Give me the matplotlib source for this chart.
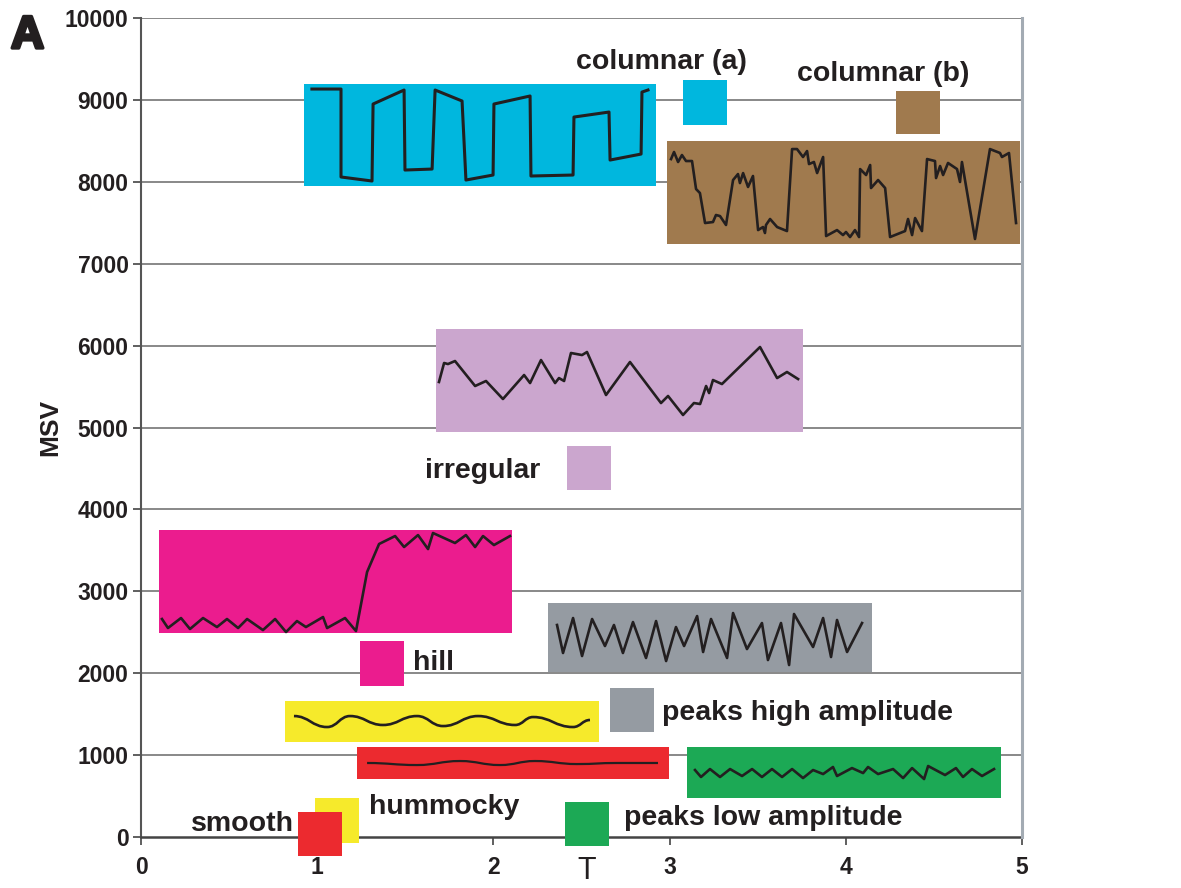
import matplotlib
matplotlib.use("Agg")
import matplotlib.pyplot as plt
from matplotlib.patches import Rectangle, PathPatch
from matplotlib.path import Path
import matplotlib.patheffects as pe

plt.rcParams['font.family'] = ['Liberation Sans', 'DejaVu Sans']

# ---------------- data ----------------
x_ticks = [0, 1, 2, 3, 4, 5]
y_ticks = [0, 1000, 2000, 3000, 4000, 5000, 6000, 7000, 8000, 9000, 10000]

columnar_a_x = [0.970, 1.135, 1.135, 1.311, 1.317, 1.493, 1.498, 1.652, 1.669, 1.822, 1.844,
                1.998, 2.003, 2.208, 2.213, 2.452, 2.457, 2.656, 2.662, 2.838, 2.843, 2.877]
columnar_a_y = [9133, 9133, 8059, 8010, 8950, 9121, 8144, 8156, 9121, 8987, 8022,
                8083, 8950, 9048, 8071, 8083, 8791, 8852, 8266, 8339, 9096, 9121]

columnar_b_x = [3.008, 3.025, 3.048, 3.070, 3.093, 3.127, 3.150, 3.172, 3.201, 3.246, 3.263,
                3.286, 3.320, 3.360, 3.388, 3.399, 3.417, 3.445, 3.473, 3.502, 3.530, 3.541,
                3.547, 3.570, 3.610, 3.666, 3.695, 3.723, 3.757, 3.780, 3.791, 3.819, 3.837,
                3.871, 3.888, 3.950, 3.984, 4.001, 4.024, 4.052, 4.075, 4.081, 4.115, 4.138,
                4.143, 4.183, 4.223, 4.251, 4.336, 4.353, 4.376, 4.393, 4.432, 4.461, 4.506,
                4.512, 4.535, 4.552, 4.580, 4.631, 4.648, 4.659, 4.733, 4.818, 4.875, 4.886,
                4.926, 4.966]
columnar_b_y = [8278, 8364, 8242, 8327, 8254, 8254, 7912, 7863, 7497, 7509, 7595,
                7582, 7473, 8022, 8095, 7985, 8107, 7937, 8071, 7411, 7448, 7375,
                7473, 7546, 7448, 7399, 8400, 8400, 8303, 8376, 8217, 8242, 8107,
                8303, 7338, 7411, 7350, 7387, 7326, 7411, 7326, 8156, 8083, 8205,
                7924, 8022, 7924, 7326, 7399, 7546, 7350, 7558, 7399, 8278, 8254,
                8046, 8193, 8083, 8230, 8156, 7998, 8242, 7302, 8400, 8352, 8303,
                8352, 7497]

irregular_x = [1.691, 1.720, 1.742, 1.782, 1.896, 1.958, 2.054, 2.174, 2.208, 2.270, 2.350,
               2.372, 2.401, 2.440, 2.503, 2.531, 2.639, 2.775, 2.951, 2.991, 3.076, 3.138,
               3.173, 3.207, 3.224, 3.246, 3.297, 3.513, 3.610, 3.666, 3.729]
irregular_y = [5556, 5788, 5775, 5812, 5507, 5568, 5348, 5641, 5543, 5824, 5543,
               5604, 5568, 5910, 5885, 5922, 5397, 5800, 5299, 5385, 5153, 5299,
               5287, 5507, 5421, 5580, 5531, 5983, 5604, 5678, 5592]

hill_x = [0.119, 0.153, 0.227, 0.278, 0.352, 0.431, 0.488, 0.551, 0.602, 0.692, 0.761,
          0.823, 0.885, 0.936, 1.033, 1.056, 1.158, 1.220, 1.283, 1.351, 1.442, 1.493,
          1.572, 1.629, 1.657, 1.782, 1.844, 1.896, 1.941, 2.003, 2.094]
hill_y = [2662, 2552, 2674, 2540, 2674, 2564, 2662, 2552, 2662, 2527, 2662,
          2503, 2637, 2564, 2686, 2552, 2674, 2515, 3236, 3578, 3675, 3541,
          3687, 3516, 3712, 3590, 3687, 3541, 3675, 3565, 3675]

peaks_high_x = [2.361, 2.395, 2.452, 2.503, 2.560, 2.633, 2.684, 2.735, 2.792, 2.866, 2.923,
                2.980, 3.036, 3.082, 3.156, 3.190, 3.235, 3.326, 3.360, 3.439, 3.524, 3.558,
                3.632, 3.678, 3.706, 3.814, 3.871, 3.916, 3.950, 4.007, 4.092]
peaks_high_y = [2589, 2247, 2674, 2210, 2662, 2332, 2589, 2247, 2625, 2186, 2637,
                2149, 2564, 2332, 2698, 2259, 2662, 2186, 2735, 2295, 2613, 2161,
                2613, 2100, 2723, 2320, 2674, 2198, 2650, 2259, 2613]

hummocky_x = [0.868, 1.056, 1.186, 1.373, 1.566, 1.714, 1.913, 2.123, 2.225, 2.452, 2.548]
hummocky_y = [1477, 1343, 1477, 1368, 1477, 1355, 1477, 1368, 1465, 1343, 1429]

smooth_x = [1.283, 1.566, 1.810, 2.037, 2.236, 2.474, 2.701, 2.934]
smooth_y = [904, 879, 928, 879, 928, 891, 904, 904]

peaks_low_x = [3.144, 3.178, 3.229, 3.286, 3.343, 3.411, 3.468, 3.524, 3.581, 3.638, 3.695,
               3.757, 3.814, 3.871, 3.927, 3.950, 4.035, 4.098, 4.126, 4.183, 4.268, 4.325,
               4.376, 4.444, 4.467, 4.563, 4.625, 4.665, 4.716, 4.773, 4.841]
peaks_low_y = [818, 733, 830, 733, 830, 745, 830, 733, 830, 733, 830,
               720, 818, 769, 855, 745, 842, 781, 855, 769, 830, 720,
               842, 708, 867, 757, 842, 733, 830, 745, 830]

# background boxes: (x0, x1, y0, y1)
box_columnar_a = (0.925, 2.923, 7950, 9195)
box_columnar_b = (2.985, 4.989, 7241, 8498)
box_irregular = (1.674, 3.757, 4945, 6203)
box_hill = (0.102, 2.106, 2491, 3748)
box_peaks_high = (2.310, 4.149, 2015, 2857)
box_hummocky = (0.817, 2.599, 1160, 1661)
box_smooth = (1.226, 2.997, 708, 1099)
box_peaks_low = (3.099, 4.881, 476, 1099)

# legend entries
legend_labels = ['columnar (a)', 'columnar (b)', 'irregular', 'hill',
                 'peaks high amplitude', 'hummocky', 'smooth', 'peaks low amplitude']

# ---------------- styles ----------------
C_BLUE = '#00B7DE'
C_BROWN = '#A07A4E'
C_PURPLE = '#CBA6CE'
C_PINK = '#EB1C8E'
C_GREY = '#959BA2'
C_YELLOW = '#F6EA2B'
C_RED = '#EC2A2F'
C_GREEN = '#1CA955'
LINE_C = '#231F20'
LW = 1.9

fig = plt.figure(figsize=(11.81, 8.88), dpi=100)
ax = fig.add_axes([0.1194, 0.0574, 0.7460, 0.9223])
ax.set_xlim(0, 5)
ax.set_ylim(0, 10000)

# grid lines
for yv in y_ticks[1:]:
    ax.axhline(yv, color='#7F7F7F', lw=1.3, zorder=0)


def box(b, color):
    x0, x1, y0, y1 = b
    ax.add_patch(Rectangle((x0, y0), x1 - x0, y1 - y0, facecolor=color,
                           edgecolor='none', zorder=1, clip_on=False))


def smooth_curve(xs, ys, lw):
    verts = [(xs[0], ys[0])]
    codes = [Path.MOVETO]
    for i in range(len(xs) - 1):
        dx = xs[i + 1] - xs[i]
        verts += [(xs[i] + dx * 0.45, ys[i]), (xs[i + 1] - dx * 0.45, ys[i + 1]),
                  (xs[i + 1], ys[i + 1])]
        codes += [Path.CURVE4] * 3
    ax.add_patch(PathPatch(Path(verts, codes), facecolor='none', edgecolor=LINE_C,
                           lw=lw, zorder=3, capstyle='butt'))


box(box_columnar_a, C_BLUE)
box(box_columnar_b, C_BROWN)
box(box_irregular, C_PURPLE)
box(box_hill, C_PINK)
box(box_peaks_high, C_GREY)
box(box_hummocky, C_YELLOW)
box(box_smooth, C_RED)
box(box_peaks_low, C_GREEN)

ax.plot(columnar_a_x, columnar_a_y, color=LINE_C, lw=2.2, zorder=3)
ax.plot(columnar_b_x, columnar_b_y, color=LINE_C, lw=LW, zorder=3)
ax.plot(irregular_x, irregular_y, color=LINE_C, lw=LW, zorder=3)
ax.plot(hill_x, hill_y, color=LINE_C, lw=LW, zorder=3)
ax.plot(peaks_high_x, peaks_high_y, color=LINE_C, lw=LW, zorder=3)
ax.plot(peaks_low_x, peaks_low_y, color=LINE_C, lw=LW, zorder=3)
smooth_curve(hummocky_x, hummocky_y, 1.9)
smooth_curve(smooth_x, smooth_y, 1.6)

# legend squares: (x0, y0, height, colour)
sq_w = 0.25
legend_squares = [
    (3.076, 8693, 550, C_BLUE),
    (4.285, 8584, 525, C_BROWN),
    (2.418, 4237, 537, C_PURPLE),
    (1.243, 1844, 549, C_PINK),
    (2.662, 1282, 537, C_GREY),
    (0.988, -73, 549, C_YELLOW),
    (0.891, -232, 537, C_RED),
    (2.407, -110, 537, C_GREEN),
]
for (sx, sy, sh, col) in legend_squares:
    ax.add_patch(Rectangle((sx, sy), sq_w, sh, facecolor=col, edgecolor='none',
                           zorder=4, clip_on=False))

label_pos = [
    (2.470, 9460, 'left'),
    (3.723, 9320, 'left'),
    (2.264, 4470, 'right'),
    (1.544, 2130, 'left'),
    (2.957, 1510, 'left'),
    (1.294, 370, 'left'),
    (0.868, 165, 'right'),
    (2.741, 235, 'left'),
]
for lab, (lx, ly, ha) in zip(legend_labels, label_pos):
    ax.text(lx, ly, lab, ha=ha, va='center', fontsize=20.5, fontweight='bold',
            color='#231F20', zorder=5, clip_on=False)

# axes styling
ax.set_xticks(x_ticks)
ax.set_yticks(y_ticks)
ax.set_xticklabels([str(v) for v in x_ticks])
ax.set_yticklabels([str(v) for v in y_ticks])
ax.tick_params(axis='both', direction='out', length=6, width=1.2, colors='#444444',
               labelsize=16.5, labelcolor='#231F20')
ax.tick_params(axis='x', pad=8)
ax.tick_params(axis='y', pad=3)
for lbl in ax.get_xticklabels() + ax.get_yticklabels():
    lbl.set_fontweight('bold')

ax.spines['left'].set_color('#555555')
ax.spines['left'].set_linewidth(1.5)
ax.spines['bottom'].set_color('#444444')
ax.spines['bottom'].set_linewidth(1.8)
ax.spines['top'].set_visible(False)
ax.spines['right'].set_color('#A3ABB3')
ax.spines['right'].set_linewidth(2.2)
ax.spines['right'].set_zorder(6)

fig.text(50 / 1181, 1 - 427 / 888, 'MSV', fontsize=19, fontweight='bold',
         color='#231F20', rotation=90, ha='center', va='center')
fig.text(587 / 1181, 0.002, 'T', fontsize=22, color='#231F20',
         ha='center', va='bottom')
fig.text(11 / 1181, 1 - 48 / 888, 'A', fontsize=33, fontweight='bold', color='#231F20',
         ha='left', va='baseline',
         path_effects=[pe.withStroke(linewidth=2.4, foreground='#231F20')])

fig.savefig('out.png', dpi=100)
